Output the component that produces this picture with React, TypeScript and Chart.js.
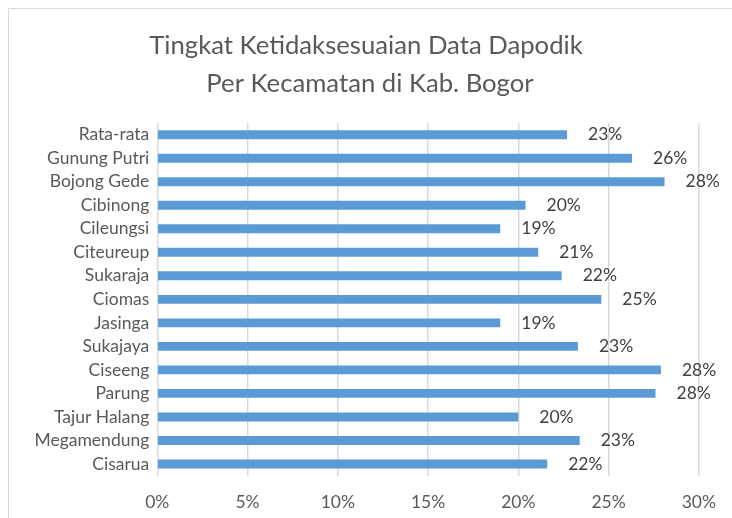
import React, { useEffect, useRef } from "react";
import { Chart, registerables } from "chart.js";

Chart.register(...registerables);

const titleLines = ["Tingkat Ketidaksesuaian Data Dapodik", "Per Kecamatan di Kab. Bogor"];

const categories = [
  "Rata-rata",
  "Gunung Putri",
  "Bojong Gede",
  "Cibinong",
  "Cileungsi",
  "Citeureup",
  "Sukaraja",
  "Ciomas",
  "Jasinga",
  "Sukajaya",
  "Ciseeng",
  "Parung",
  "Tajur Halang",
  "Megamendung",
  "Cisarua",
];

const values = [22.7, 26.3, 28.1, 20.4, 19.0, 21.1, 22.4, 24.6, 19.0, 23.3, 27.9, 27.6, 20.0, 23.4, 21.6];

const xTicks = [0, 5, 10, 15, 20, 25, 30];

const FONT = "Lato, 'Open Sans', sans-serif";

const framePlugin = {
  id: "frameAndTitle",
  beforeDraw(chart: any) {
    const ctx = chart.ctx;
    ctx.save();
    ctx.fillStyle = "#ffffff";
    ctx.fillRect(0, 0, chart.width, chart.height);
    ctx.strokeStyle = "#d9d9d9";
    ctx.lineWidth = 1;
    ctx.beginPath();
    ctx.moveTo(0.5, chart.height);
    ctx.lineTo(0.5, 0.5);
    ctx.lineTo(chart.width, 0.5);
    ctx.stroke();
    ctx.fillStyle = "#595959";
    ctx.font = `25.7px ${FONT}`;
    ctx.textAlign = "center";
    ctx.textBaseline = "alphabetic";
    ctx.fillText(titleLines[0], 358, 45.5);
    ctx.fillText(titleLines[1], 362, 84);
    ctx.restore();
  },
};

const labelPlugin = {
  id: "barLabels",
  afterDatasetsDraw(chart: any) {
    const ctx = chart.ctx;
    const meta = chart.getDatasetMeta(0);
    ctx.save();
    ctx.fillStyle = "#404040";
    ctx.font = `17.5px ${FONT}`;
    ctx.textAlign = "left";
    ctx.textBaseline = "middle";
    meta.data.forEach((bar: any, i: number) => {
      const v = chart.data.datasets[0].data[i] as number;
      ctx.fillText(Math.round(v) + "%", bar.x + 21, bar.y);
    });
    ctx.restore();
  },
};

export default function App() {
  const ref = useRef<HTMLCanvasElement>(null);
  useEffect(() => {
    if (!ref.current) return;
    const chart = new Chart(ref.current, {
      type: "bar",
      data: {
        labels: categories,
        datasets: [
          {
            data: values,
            backgroundColor: "#5b9bd5",
            borderWidth: 0,
            barPercentage: 0.38,
            categoryPercentage: 1,
          },
        ],
      },
      options: {
        indexAxis: "y",
        responsive: false,
        animation: false,
        layout: { padding: { top: 115, right: 29.7, left: 1, bottom: 0 } },
        plugins: {
          legend: { display: false },
          title: { display: false },
          tooltip: { enabled: false },
        },
        scales: {
          x: {
            min: 0,
            max: 30,
            afterBuildTicks(scale: any) {
              scale.ticks = xTicks.map((v) => ({ value: v }));
            },
            ticks: {
              callback: (v: any) => v + "%",
              color: "#595959",
              font: { family: FONT, size: 17.5 },
              padding: 16,
              maxRotation: 0,
              autoSkip: false,
            },
            grid: { color: "#d9d9d9", lineWidth: 1.5, drawTicks: false },
            border: { display: false },
            afterFit(scale: any) {
              scale.height = 42.3;
            },
          },
          y: {
            ticks: {
              color: "#595959",
              font: { family: FONT, size: 17.5 },
              padding: 8,
              autoSkip: false,
            },
            grid: { display: false, drawTicks: false },
            border: { display: false },
            afterFit(scale: any) {
              scale.width = 148.3;
            },
          },
        },
      },
      plugins: [framePlugin, labelPlugin],
    });
    return () => chart.destroy();
  }, []);
  return (
    <div style={{ position: "fixed", left: 8, top: 8, width: 724, height: 510 }}>
      <canvas ref={ref} width={724} height={510} style={{ display: "block" }} />
    </div>
  );
}
